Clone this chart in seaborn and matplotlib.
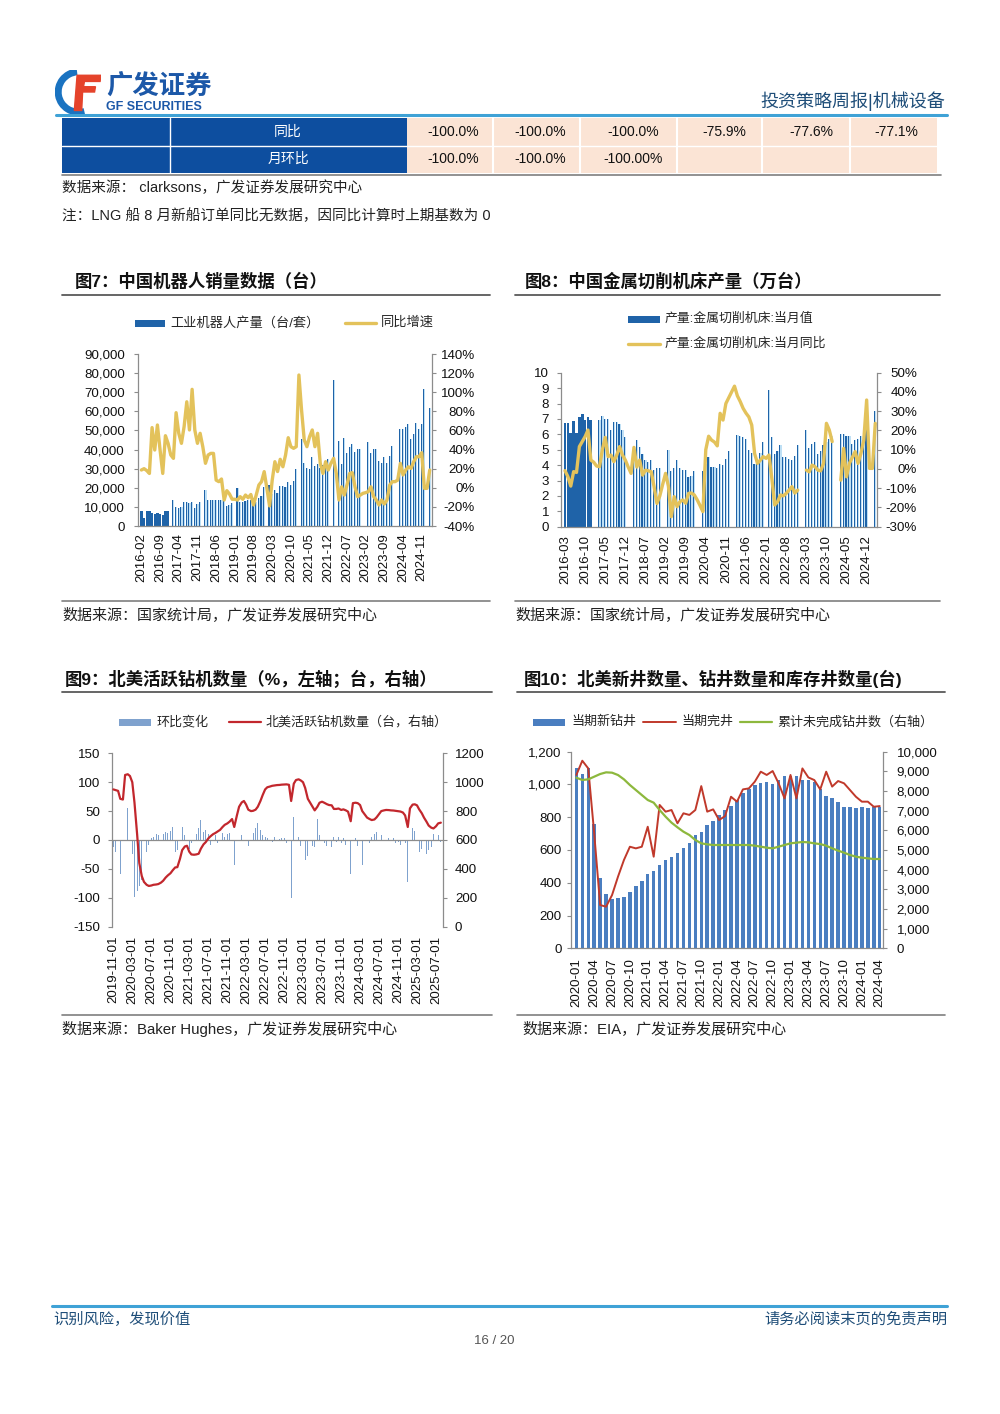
import numpy as np
import pandas as pd
import seaborn as sns
import matplotlib.pyplot as plt
import matplotlib.dates as mdates
from matplotlib.lines import Line2D
from matplotlib.patches import Rectangle, Arc, Polygon
from matplotlib.ticker import FuncFormatter, FixedLocator

sns.set_theme(style='white')
plt.rcParams['font.family'] = ['Liberation Sans', 'Noto Sans CJK SC']
plt.rcParams['axes.unicode_minus'] = False
plt.rcParams['text.color'] = '#111111'
plt.rcParams['xtick.color'] = '#111111'
plt.rcParams['ytick.color'] = '#111111'

# ---------------- data ----------------
# table (clarksons)
table_yoy = ['-100.0%', '-100.0%', '-100.0%', '-75.9%', '-77.6%', '-77.1%']
table_mom = ['-100.0%', '-100.0%', '-100.00%', '', '', '']

# chart 7: industrial robots, 2016-02 .. 2025-02
robot_months = pd.period_range('2016-02', periods=109, freq='M').strftime('%Y-%m').tolist()
robot_output = [
    7700, 4200, 7700, 7700, 6800, 6100, 6700, 6100, 6000, 7700, 7700,
    None, 13500, 10000, 9600, 9800, 12400, 12300, 12100, 12800, 9500, 11400, 12600,
    None, 18600, 13800, 13700, 13500, 13700, 13700, 13700, 13800, 10500, 11200, 11900,
    None, 20000, 12600, 12400, 13300, 13500, 13700, 14900, 12800, 14400, 15900, 20300,
    None, 21200, 17000, 19000, 17500, 21000, 20800, 20500, 23100, 21400, 23500, 29600,
    None, 45400, 33100, 30100, 29600, 36300, 31300, 32700, 30100, 31700, 34200, 35000,
    None, 76400, None, 44500, 32400, 46200, 38400, 41200, 42900, 38900, 40300, 40300,
    None, None, 43800, 38000, 40100, 40100, 34200, 33100, 36300, 33100, 36600, 41900,
    None, None, 50600, 50600, 51700, 53200, 45400, 48000, 54100, 51000, 53400, 71600,
    None, 61600,
]
robot_yoy = [
    18.6, 20, 18, 15, 63, 39.5, 65.7, 39.5, 15, 54.5, 46.5,
    34.3, 30.8, 78.6, 57, 46.5, 64, 90, 60.5, 103, 60.5, 46.5, 57,
    43, 25.6, 34.3, 36, 36, 8, 6.4, 9.2, -12.8, -3, -6.5, -12,
    -12, -12.8, -9.3, -12, -7.6, -10.4, -7, -18, -7.6, 2.9, 6.4, 16.9,
    -0.6, -19, 8, 27.3, 17, 29.8, 22, 34.3, 52.4, 43, 41.3, 43,
    118, 81, 50, 43, 53.5, 60.5, 43, 57, 25.6, 15, 27.3, 18.6,
    25.6, 30.8, 15, -12.8, 1, -7.6, 2.9, 15, 15.8, 1, -9.3, -7.6,
    -5.8, -5.1, -4, 1, -9.3, -12.8, -18, -12.8, -17, -12.8, 2.9, 6.4,
    6.4, 8, 25.6, 13.4, 18.6, 22, 20.3, 27.3, 32.5, 32.5, 36.7, -0.6, -0.6, 18.6,
]

# chart 8: metal cutting machine tools, 2016-03 .. 2025-03
tool_months = pd.period_range('2016-03', periods=109, freq='M').strftime('%Y-%m').tolist()
tool_output = [
    6.75, 6.75, 6.1, 6.85, 6.1, 7.15, 7.3, 6.95, 7.1, 6.9,
    None, None, 6.9, 7.2, 7.0, 7.0, 6.3, 6.8, 6.8, 6.7, 6.3, 5.8,
    None, None, 5.0, 5.6, 5.2, 4.7, 4.3, 4.2, 4.3, 3.7, 3.8, 3.8,
    None, None, 5.0, 3.6, 3.8, 4.3, 3.8, 3.7, 3.7, 3.2, 3.3, 3.6,
    None, None, 3.6, 4.1, 4.5, 3.9, 3.9, 3.8, 4.07, 4.0, 4.4, 4.9,
    None, None, 5.95, 5.9, 5.8, 5.7, 5.0, 4.8, 4.1, 4.3, 4.8, 5.5,
    None, 8.9, 5.8, 4.7, 4.9, 5.3, 4.55, 4.5, 4.4, 4.3, 4.6, 5.3,
    None, None, 6.3, 5.1, 5.4, 5.5, 4.7, 4.9, 5.3, 5.5, 5.7, 5.9,
    None, None, 6.0, 6.0, 5.9, 5.9, 5.4, 5.6, 5.7, 5.9, 6.3, 6.7,
    None, None, 7.5,
]
tool_yoy = [
    -0.9, -4, -8.9, -1.4, -1.8, 11.6, 14.2, 16.8, 20.2, 4.6,
    3.5, 1.5, 1.2, 10, 16.4, 6.4, 7.2, 3.8, 7.2, 11.6, 7.2, 4.6,
    1, -2.3, 11.2, 1.0, 4.6, -3.2, -0.6, -1.0, -1.4, -9.2, -17.9, -14,
    -8, -2.3, -9, -24.8, -14.4, -19.6, -17, -16.1, -17.8, -12.7, -12.5, -13.5,
    -16, -19, -22.2, 10, 17, 15, 14, 12, 28.9, 25.4, 34, 37,
    40, 43, 38, 35, 31.5, 29, 27, 22.8, 8, 2.9, 4.6, 6.4,
    5.5, 7.2, -5, -18.7, -17, -13.5, -14, -12.7, -11, -9.2, -12.5, -11,
    None, None, -0.6, -1.5, 2.0, 1.2, -0.6, -1.0, 2.9, 23.7, 20.2, 14.2,
    None, None, -5.8, 10.7, -4.1, 2.9, 6, 9, 2.9, 8, 15, 35.8, 0.3, 0.3, 23.7,
]

# chart 9: North American active rigs, semi-monthly from 2019-11-01
rig_dates = pd.date_range('2019-11-01', periods=139, freq='SMS')
rig_count = [
    950, 945, 940, 885, 880, 1050, 1055, 1043, 1000, 860, 640, 440,
    350, 310, 290, 282, 285, 290, 292, 295, 305, 318, 340, 355,
    370, 390, 410, 412, 470, 530, 555, 560, 520, 500, 498, 500,
    505, 540, 570, 585, 610, 625, 640, 648, 660, 670, 690, 705,
    715, 727, 745, 690, 770, 830, 860, 870, 845, 810, 800, 802,
    810, 830, 870, 910, 950, 965, 970, 975, 978, 980, 981, 983,
    984, 985, 982, 870, 990, 1015, 1020, 1012, 1000, 960, 885, 860,
    830, 805, 830, 858, 865, 858, 848, 842, 840, 815, 815, 818,
    808, 812, 805, 796, 730, 855, 858, 855, 842, 800, 775, 755,
    745, 738, 742, 757, 780, 800, 805, 808, 807, 805, 804, 802,
    800, 797, 790, 770, 690, 819, 845, 847, 840, 812, 785, 755,
    727, 700, 685, 680, 695, 715, 720,
]
rig_change = [
    -12, -20, 14, -58, -10, 75, 55, 10, -25, -98, -89, -80,
    -69, -45, -20, -8, 3, 6, 10, 8, 12, 10, 14, 12,
    15, 22, -20, -17, 66, 22, 8, -8, -15, -6, 4, 10,
    20, 35, 14, 18, 10, -8, 12, 8, -5, 10, 12, 6,
    10, 12, -5, -43, 63, 25, 8, -14, -29, -10, 5, 12,
    20, 30, 18, 8, 5, 4, 3, -3, 5, 3, 2, 4,
    3, -5, 2, -101, 40, 12, 5, -10, -22, -35, -28, -15,
    -10, -12, 37, 8, -8, -5, -10, 5, -12, 6, -4, 5,
    -5, 3, -8, -4, -58, 87, 4, -10, -25, -43, -18, -10,
    -5, 5, 10, 14, 17, 8, 3, -3, 4, -5, 3, -6,
    -4, -8, -15, -6, -72, 118, 20, 15, -10, -20, -15, -35,
    -25, -18, -12, 10, 17, 8, -4,
]
rig_ticks = pd.date_range('2019-11-01', '2025-07-01', freq='4MS')

# chart 10: EIA wells, 2020-01 .. 2024-04
well_months = pd.period_range('2020-01', periods=52, freq='M').strftime('%Y-%m').tolist()
wells_drilled = [
    1100, 1065, 1100, 760, 430, 330, 300, 305, 312, 342,
    378, 413, 452, 470, 508, 537, 556, 580, 610, 645,
    690, 712, 752, 780, 815, 845, 870, 905, 945, 975,
    995, 1010, 1015, 1005, 1030, 1050, 1050, 1050, 1030, 1025,
    1015, 975, 930, 920, 895, 865, 860, 858, 862, 858,
    860, 860,
]
wells_completed = [
    1058, 1145, 1098, 702, 264, 254, 325, 437, 539, 620,
    610, 620, 742, 559, 875, 834, 844, 763, 824, 814,
    844, 990, 834, 848, 783, 807, 925, 895, 970, 976,
    1017, 1078, 1058, 1082, 1007, 915, 1058, 915, 1098, 1043,
    1027, 970, 1078, 987, 1021, 1007, 966, 925, 895, 895,
    864, 868,
]
wells_duc = [
    8678, 8560, 8594, 8729, 8865, 8950, 8933, 8814, 8594, 8305,
    8051, 7797, 7543, 7407, 7034, 6695, 6390, 6153, 5932, 5763,
    5508, 5339, 5288, 5254, 5254, 5254, 5254, 5254, 5254, 5254,
    5220, 5169, 5118, 5085, 5169, 5254, 5339, 5373, 5407, 5390,
    5339, 5300, 5220, 5085, 4966, 4864, 4746, 4661, 4610, 4576,
    4542, 4542,
]

# ---------------- page helpers ----------------
W, H = 1000, 1414
fig = plt.figure(figsize=(10, 14.14), dpi=100)
fig.patch.set_facecolor('white')

NAVY = '#1F4E79'
GRAY = '#8c8c8c'
BAR_DARK = '#1F63A8'
BAR_LIGHT = '#BFE0F5'
YELLOW = '#E3C25B'


def fx(x):
    return x / W


def fy(y):
    return 1 - y / H


def text(x, y, s, size=10, **kw):
    kw.setdefault('va', 'center')
    fig.text(fx(x), fy(y), s, fontsize=size, **kw)


def hline(x0, x1, y, color='#7f7f7f', lw=1.0):
    fig.add_artist(Line2D([fx(x0), fx(x1)], [fy(y), fy(y)], color=color, lw=lw))


def vline(x, y0, y1, color, lw=1.0):
    fig.add_artist(Line2D([fx(x), fx(x)], [fy(y0), fy(y1)], color=color, lw=lw))


def box(x0, y0, x1, y1, color):
    fig.add_artist(Rectangle((fx(x0), fy(y1)), (x1 - x0) / W, (y1 - y0) / H,
                             facecolor=color, edgecolor='none'))


def axes_at(x0, y0, x1, y1):
    return fig.add_axes([fx(x0), fy(y1), (x1 - x0) / W, (y1 - y0) / H])


def style(ax, ax2, lpad, rpad, xpad, bottom=True):
    for a in (ax, ax2):
        a.grid(False)
        a.set_facecolor('none')
        for s in a.spines.values():
            s.set_visible(False)
    ax.spines['left'].set_visible(True)
    ax.spines['left'].set_color(GRAY)
    ax.spines['left'].set_linewidth(0.9)
    ax2.spines['right'].set_visible(True)
    ax2.spines['right'].set_color(GRAY)
    ax2.spines['right'].set_linewidth(0.9)
    if bottom:
        ax.spines['bottom'].set_visible(True)
        ax.spines['bottom'].set_color(GRAY)
        ax.spines['bottom'].set_linewidth(0.9)
    ax.tick_params(axis='y', left=True, direction='out', length=3, width=0.8,
                   color=GRAY, labelsize=9.6, pad=lpad)
    ax2.tick_params(axis='y', right=True, direction='out', length=3, width=0.8,
                    color=GRAY, labelsize=9.6, pad=rpad)
    ax.tick_params(axis='x', bottom=False, length=0, labelsize=9.5,
                   labelrotation=90, pad=xpad)
    ax.set_xlabel('')
    ax.set_ylabel('')
    ax2.set_ylabel('')


pct = FuncFormatter(lambda v, p: f'{v:.0f}%')
comma = FuncFormatter(lambda v, p: f'{v:,.0f}')

# ---------------- header ----------------
logo = axes_at(55, 70, 101, 114)
logo.set_xlim(0, 1)
logo.set_ylim(0, 1)
logo.axis('off')
logo.add_patch(Arc((0.52, 0.5), 0.9, 0.92, theta1=95, theta2=285, lw=5, color='#1A73C1'))
logo.add_patch(Polygon([(0.42, 0.08), (0.58, 0.08), (0.6, 0.5), (0.86, 0.5), (0.88, 0.62),
                        (0.62, 0.62), (0.64, 0.74), (0.98, 0.74), (1.0, 0.88), (0.48, 0.88)],
                       closed=True, color='#E5432B'))
text(106, 87, '广发证券', size=19, weight='bold', color='#1C58A8')
text(106, 107, 'GF SECURITIES', size=9, weight='bold', color='#1C58A8')
text(945, 101, '投资策略周报|机械设备', size=13, ha='right', color=NAVY)
hline(56, 947, 115, color='#3FA2D6', lw=2.2)

# ---------------- table ----------------
box(62, 118, 407, 173, '#0D4E9F')
box(407, 118, 937, 173, '#FBE4D5')
vline(170, 118, 173, 'white', 1.0)
hline(62, 937, 145.5, color='white', lw=1.0)
for xb in [493, 580, 677, 762, 850]:
    vline(xb, 118, 173, 'white', 1.5)
text(288, 132, '同比', size=10, ha='center', color='white')
text(288, 159, '月环比', size=10, ha='center', color='white')
cell_x = [453, 540, 633, 724, 811, 896]
for cx, a, b in zip(cell_x, table_yoy, table_mom):
    text(cx, 132, a, size=10, ha='center')
    if b:
        text(cx, 159, b, size=10, ha='center')
hline(62, 941, 174.5, color='#7f7f7f', lw=1.2)
text(62, 188, '数据来源： clarksons，广发证券发展研究中心', size=10.5, color='#222222')
text(62, 216, '注：LNG 船 8 月新船订单同比无数据，因同比计算时上期基数为 0', size=10.5, color='#222222')

# ---------------- titles / frames ----------------
text(75, 281, '图7：中国机器人销量数据（台）', size=12.5, weight='bold')
text(525, 281, '图8：中国金属切削机床产量（万台）', size=12.5, weight='bold')
hline(62, 490, 295, color='#595959', lw=1.3)
hline(515, 940, 295, color='#595959', lw=1.3)
hline(62, 490, 601, color='#7f7f7f', lw=1.2)
hline(515, 940, 601, color='#7f7f7f', lw=1.2)
text(62, 615, '数据来源：国家统计局，广发证券发展研究中心', size=10.8, color='#222222')
text(515, 615, '数据来源：国家统计局，广发证券发展研究中心', size=10.8, color='#222222')

text(65, 679, '图9：北美活跃钻机数量（%，左轴；台，右轴）', size=12.5, weight='bold')
text(524, 679, '图10：北美新井数量、钻井数量和库存井数量(台)', size=12.5, weight='bold')
hline(62, 492, 692, color='#595959', lw=1.3)
hline(517, 945, 692, color='#595959', lw=1.3)
hline(62, 492, 1015, color='#7f7f7f', lw=1.2)
hline(517, 945, 1015, color='#7f7f7f', lw=1.2)
text(62, 1029, '数据来源：Baker Hughes，广发证券发展研究中心', size=10.8, color='#222222')
text(522, 1029, '数据来源：EIA，广发证券发展研究中心', size=10.8, color='#222222')

# ---------------- chart 7 ----------------
ax7 = axes_at(138, 354, 432, 526)
ax7b = ax7.twinx()
i7 = np.arange(len(robot_months))
v7 = np.array(robot_output, dtype=float)
solid7 = np.array([m < '2017' for m in robot_months])
ax7.bar(i7[solid7], v7[solid7], width=0.92, color=BAR_DARK, linewidth=0)
ax7.bar(i7[~solid7] - 0.4, v7[~solid7], width=0.4, align='edge', color=BAR_DARK, linewidth=0)
ax7.bar(i7[~solid7], v7[~solid7], width=0.4, align='edge', color=BAR_LIGHT, linewidth=0)
sns.lineplot(x=i7, y=robot_yoy, ax=ax7b, color=YELLOW, linewidth=2.4)
ax7.set_xlim(-1.27, 108.85)
ax7.set_ylim(0, 90000)
ax7b.set_ylim(-40, 140)
ax7.set_yticks(range(0, 90001, 10000))
ax7.yaxis.set_major_formatter(comma)
ax7b.set_yticks(range(-40, 141, 20))
ax7b.yaxis.set_major_formatter(pct)
ax7.set_xticks(i7[::7])
ax7.set_xticklabels(robot_months[::7])
style(ax7, ax7b, lpad=6.5, rpad=28, xpad=5)
plt.setp(ax7b.get_yticklabels(), ha='right')

box(135, 319.5, 165, 326.5, BAR_DARK)
text(170, 323, '工业机器人产量（台/套）', size=9.5, color='#262626')
hline(345, 376, 323, color=YELLOW, lw=2.4)
text(381, 323, '同比增速', size=9.5, color='#262626')

# ---------------- chart 8 ----------------
ax8 = axes_at(560.7, 372.7, 876.7, 526.7)
ax8b = ax8.twinx()
i8 = np.arange(len(tool_months))
v8 = np.array(tool_output, dtype=float)
solid8 = np.array([m < '2017' for m in tool_months])
ax8.bar(i8[solid8], v8[solid8], width=0.95, color=BAR_DARK, linewidth=0)
ax8.bar(i8[~solid8] - 0.4, v8[~solid8], width=0.4, align='edge', color=BAR_DARK, linewidth=0)
ax8.bar(i8[~solid8], v8[~solid8], width=0.4, align='edge', color=BAR_LIGHT, linewidth=0)
ax8b.plot(i8, np.array(tool_yoy, dtype=float), color=YELLOW, linewidth=2.4)
ax8.set_xlim(-1.5, 108.5)
ax8.set_ylim(0, 10)
ax8b.set_ylim(-30, 50)
ax8.set_yticks(range(0, 11))
ax8b.set_yticks(range(-30, 51, 10))
ax8b.yaxis.set_major_formatter(pct)
ax8.set_xticks(i8[::7])
ax8.set_xticklabels(tool_months[::7])
style(ax8, ax8b, lpad=5.4, rpad=26, xpad=6)
plt.setp(ax8b.get_yticklabels(), ha='right')

box(628, 315.5, 660, 322.5, BAR_DARK)
text(665, 319, '产量:金属切削机床:当月值', size=9.3, color='#262626')
hline(628, 660, 344, color=YELLOW, lw=2.4)
text(665, 344, '产量:金属切削机床:当月同比', size=9.3, color='#262626')

# ---------------- chart 9 ----------------
RIG_BAR = '#7FA2CE'
RIG_RED = '#C2272D'
ax9 = axes_at(111.7, 753.3, 442.7, 926.7)
ax9b = ax9.twinx()
ax9.axhline(0, color=GRAY, lw=0.9, zorder=3)
ax9.bar(rig_dates, rig_change, width=5, color=RIG_BAR, linewidth=0, zorder=2)
sns.lineplot(x=rig_dates, y=rig_count, ax=ax9b, color=RIG_RED, linewidth=1.6)
ax9.set_xlim(pd.Timestamp('2019-10-21'), pd.Timestamp('2025-08-13'))
ax9.set_ylim(-150, 150)
ax9b.set_ylim(0, 1200)
ax9.set_yticks(range(-150, 151, 50))
ax9b.set_yticks(range(0, 1201, 200))
ax9.xaxis.set_major_locator(FixedLocator(mdates.date2num(rig_ticks)))
ax9.xaxis.set_major_formatter(mdates.DateFormatter('%Y-%m-%d'))
style(ax9, ax9b, lpad=5.4, rpad=5.8, xpad=6.5, bottom=False)

box(119, 718.5, 151, 725.5, RIG_BAR)
text(157, 722, '环比变化', size=9.4, color='#262626')
hline(229, 261, 722, color=RIG_RED, lw=1.6)
text(266, 722, '北美活跃钻机数量（台，右轴）', size=9.4, color='#262626')

# ---------------- chart 10 ----------------
WELL_BAR = '#4A7EC0'
WELL_RED = '#C0392B'
WELL_GREEN = '#8DB83D'
ax10 = axes_at(571, 751.7, 883.3, 948.3)
ax10b = ax10.twinx()
i10 = np.arange(len(well_months))
ax10.bar(i10, wells_drilled, width=0.58, color=WELL_BAR, linewidth=0)
sns.lineplot(x=i10, y=wells_completed, ax=ax10, color=WELL_RED, linewidth=1.4)
sns.lineplot(x=i10, y=wells_duc, ax=ax10b, color=WELL_GREEN, linewidth=1.6)
ax10.set_xlim(-0.9, 51.6)
ax10.set_ylim(0, 1200)
ax10b.set_ylim(0, 10000)
ax10.set_yticks(range(0, 1201, 200))
ax10.yaxis.set_major_formatter(comma)
ax10b.set_yticks(range(0, 10001, 1000))
ax10b.yaxis.set_major_formatter(comma)
ax10.set_xticks(i10[::3])
ax10.set_xticklabels(well_months[::3])
style(ax10, ax10b, lpad=3.7, rpad=6.6, xpad=7)

box(533, 718.5, 565, 725.5, WELL_BAR)
text(571, 722, '当期新钻井', size=9.4, color='#262626')
hline(643, 676, 722, color=WELL_RED, lw=1.4)
text(681, 722, '当期完井', size=9.4, color='#262626')
hline(740, 772, 722, color=WELL_GREEN, lw=1.6)
text(777, 722, '累计未完成钻井数（右轴）', size=9.4, color='#262626')

# ---------------- footer ----------------
hline(52, 947, 1305.5, color='#3FA2D6', lw=2.2)
text(53, 1319, '识别风险，发现价值', size=11, color=NAVY)
text(947, 1319, '请务必阅读末页的免责声明', size=11, ha='right', color=NAVY)
text(494, 1341, '16 / 20', size=9.5, ha='center', color='#555555')

fig.savefig('out.png', dpi=100, facecolor='white')
